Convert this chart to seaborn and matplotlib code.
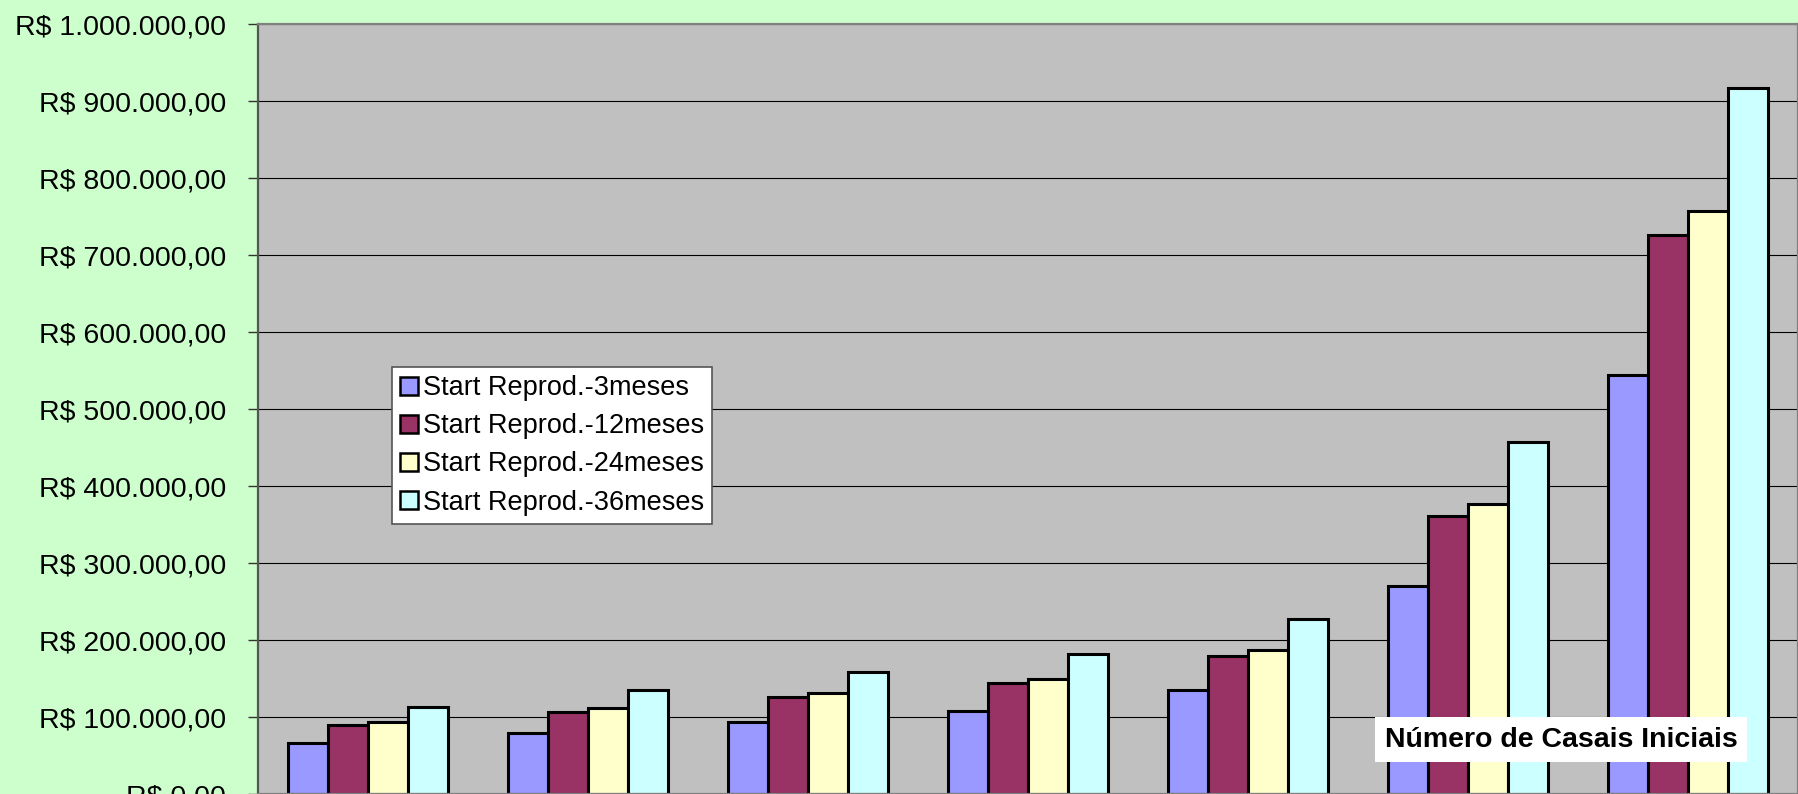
import matplotlib
matplotlib.use("Agg")
import matplotlib.pyplot as plt
import matplotlib.ticker as mticker
import seaborn as sns
import pandas as pd

# Initial number of breeding pairs (category axis)
casais = ["5", "6", "7", "8", "10", "20", "40"]

# Revenue (R$) by the age at which reproduction starts
start_3m = [66000, 80000, 94000, 108000, 135000, 271000, 545000]
start_12m = [89500, 107500, 126000, 144000, 180000, 362000, 726000]
start_24m = [93500, 111500, 131000, 150000, 187000, 377000, 757000]
start_36m = [113000, 135500, 159000, 182000, 228000, 457000, 917000]

series_names = [
    "Start Reprod.-3meses",
    "Start Reprod.-12meses",
    "Start Reprod.-24meses",
    "Start Reprod.-36meses",
]
palette = ["#9999FF", "#993366", "#FFFFCC", "#CCFFFF"]

df = pd.DataFrame({
    "casais": casais * 4,
    "valor": start_3m + start_12m + start_24m + start_36m,
    "serie": [n for n in series_names for _ in casais],
})

sns.set_theme(style="white")
plt.rcParams["font.family"] = ["Liberation Sans", "DejaVu Sans"]
plt.rcParams["text.color"] = "black"

fig = plt.figure(figsize=(17.98, 7.94), dpi=100, facecolor="#CCFFCC")
ax = fig.add_axes([258 / 1798, -0.0004, 1 - 258 / 1798, 0.9698])
ax.set_facecolor("#C0C0C0")

sns.barplot(
    data=df, x="casais", y="valor", hue="serie",
    order=casais, hue_order=series_names, palette=palette,
    width=0.727, gap=0, saturation=1, edgecolor="black", linewidth=2.2,
    errorbar=None, ax=ax,
)

ax.set_ylim(0, 1_000_000)
ax.set_xlim(-0.5, len(casais) - 0.5)
ax.yaxis.set_major_locator(mticker.MultipleLocator(100_000))


def brl(v, _pos):
    s = f"{v:,.2f}".replace(",", "X").replace(".", ",").replace("X", ".")
    return f"R$ {s}"


ax.yaxis.set_major_formatter(mticker.FuncFormatter(brl))
ax.grid(axis="y", color="black", linewidth=0.8)
ax.set_axisbelow(True)

ax.tick_params(axis="y", which="major", left=True, length=7, width=1,
               color="#333333", labelsize=20.5, pad=16, labelcolor="black")
ax.tick_params(axis="x", bottom=False, labelbottom=False)
ax.set_ylabel("")
ax.set_xlabel("")

for side in ("left", "top", "right", "bottom"):
    ax.spines[side].set_color("#808080")
    ax.spines[side].set_linewidth(1.6)
ax.spines["left"].set_color("#555555")

# Category-axis title, boxed in white on top of the bars
ax.text((1561 - 258) / 1540, (794.3 - 739.5) / 770, "Número de Casais Iniciais",
        transform=ax.transAxes, ha="center", va="center",
        fontsize=20.5, fontweight="bold", color="black", zorder=10,
        bbox=dict(facecolor="white", edgecolor="none", pad=7))

leg = ax.legend(
    loc="upper left", bbox_to_anchor=(392 / 1798, 1 - 367 / 794),
    bbox_transform=fig.transFigure,
    fontsize=19.5, frameon=True, fancybox=False, shadow=False,
    handlelength=0.65, handleheight=0.65, handletextpad=0.2,
    labelspacing=0.45, borderpad=0.3, borderaxespad=0,
)
leg.get_frame().set_edgecolor("#555555")
leg.get_frame().set_linewidth(1.2)
leg.get_frame().set_facecolor("white")
leg.get_frame().set_alpha(1)
leg.set_zorder(11)
for t in leg.get_texts():
    t.set_color("black")
for h in leg.legend_handles:
    h.set_edgecolor("black")
    h.set_linewidth(1.8)

fig.savefig("out.png", dpi=100, facecolor=fig.get_facecolor())
